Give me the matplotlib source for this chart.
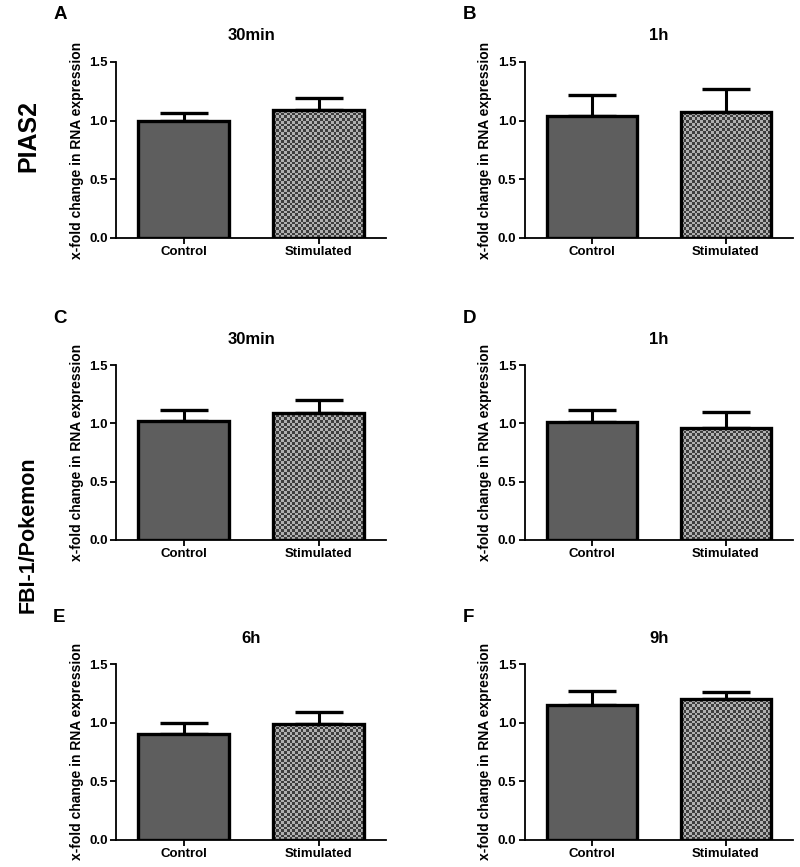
import matplotlib
matplotlib.use("Agg")
import matplotlib.pyplot as plt
from matplotlib.colors import ListedColormap
import numpy as np

plt.rcParams['font.family'] = ['Liberation Sans', 'DejaVu Sans']
plt.rcParams['font.weight'] = 'bold'

categories = ["Control", "Stimulated"]
panel_letters = ["A", "B", "C", "D", "E", "F"]
panel_titles = ["30min", "1h", "30min", "1h", "6h", "9h"]
means = [
    [1.00, 1.09],
    [1.04, 1.07],
    [1.02, 1.09],
    [1.015, 0.96],
    [0.905, 0.99],
    [1.15, 1.20],
]
errors = [
    [0.065, 0.105],
    [0.175, 0.20],
    [0.09, 0.11],
    [0.095, 0.135],
    [0.09, 0.10],
    [0.12, 0.065],
]
yticks = [0.0, 0.5, 1.0, 1.5]
ytick_labels = ["0.0", "0.5", "1.0", "1.5"]
ylabel = "x-fold change in RNA expression"
row_labels = ["PIAS2", "FBI-1/Pokemon"]

fig = plt.figure(figsize=(8, 8.67), dpi=100)

col_lr = [(0.145, 0.4825), (0.656, 0.991)]
row_bt = [(0.7255, 0.9285), (0.3772, 0.5790), (0.0317, 0.2341)]

checker_cmap = ListedColormap(['#3e3e3e', '#b0b0b0'])
cell_px = 2.7

axes = []
for i in range(6):
    r, c = divmod(i, 2)
    l, rr = col_lr[c]
    b, t = row_bt[r]
    ax = fig.add_axes([l, b, rr - l, t - b])
    axes.append(ax)
    x = np.arange(len(categories))
    ax.errorbar(x, means[i], yerr=[np.zeros(2), errors[i]], fmt='none',
                ecolor='black', elinewidth=2.2, capsize=17.5, capthick=2.4, zorder=1)
    bars = ax.bar(x, means[i], width=0.67, color=['#5e5e5e', 'none'],
                  edgecolor='black', linewidth=2.4, zorder=3)
    ax.set_xlim(-0.5, 1.5)
    ax.set_ylim(0, 1.5)
    # checkerboard fill for the stimulated bar, clipped to the bar
    sb = bars[1]
    x0, w, h = sb.get_x(), sb.get_width(), sb.get_height()
    p0 = ax.transData.transform((x0, 0))
    p1 = ax.transData.transform((x0 + w, h))
    nx = max(1, int(round(abs(p1[0] - p0[0]) / cell_px)))
    ny = max(1, int(round(abs(p1[1] - p0[1]) / cell_px)))
    checker = (np.add.outer(np.arange(ny), np.arange(nx)) % 2).astype(float)
    im = ax.imshow(checker, cmap=checker_cmap, extent=(x0, x0 + w, 0, h),
                   origin='lower', aspect='auto', interpolation='nearest', zorder=2)
    im.set_clip_path(sb)
    ax.set_xlim(-0.5, 1.5)
    ax.set_ylim(0, 1.5)
    ax.set_xticks(x)
    ax.set_xticklabels(categories, fontsize=9.5, fontweight='bold')
    ax.set_yticks(yticks)
    ax.set_yticklabels(ytick_labels, fontsize=9.5, fontweight='bold')
    ax.set_ylabel(ylabel, fontsize=10, fontweight='bold', labelpad=4)
    ax.text(0.5, 1.148, panel_titles[i], transform=ax.transAxes,
            fontsize=12, fontweight='bold', ha='center', va='center')
    for s in ['top', 'right']:
        ax.spines[s].set_visible(False)
    for s in ['left', 'bottom']:
        ax.spines[s].set_linewidth(1.3)
    ax.tick_params(axis='both', direction='out', length=4, width=1.3, pad=2)
    ax.text(-0.233, 1.267, panel_letters[i], transform=ax.transAxes,
            fontsize=13.5, fontweight='bold', ha='left', va='center')

fig.text(0.035, 0.843, row_labels[0], rotation=90, fontsize=18,
         fontweight='bold', ha='center', va='center')
fig.text(0.035, 0.383, row_labels[1], rotation=90, fontsize=15.5,
         fontweight='bold', ha='center', va='center')

fig.savefig("out.png", dpi=100)
